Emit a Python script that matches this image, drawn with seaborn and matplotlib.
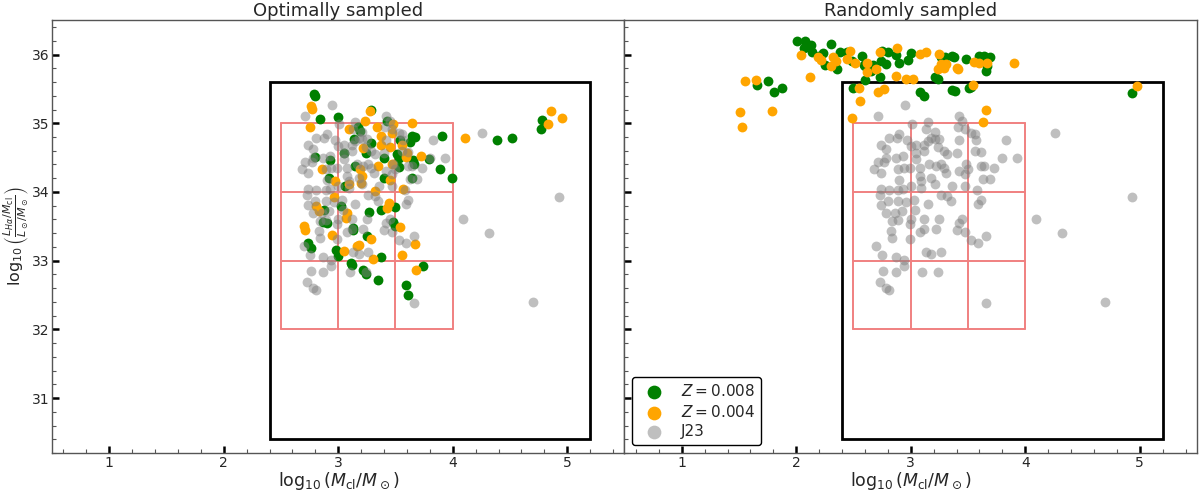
import numpy as np
import pandas as pd
import matplotlib
matplotlib.use("Agg")
import matplotlib.pyplot as plt
import seaborn as sns
from matplotlib.patches import Rectangle
from matplotlib.ticker import MultipleLocator

# =========================================
#  Data
# =========================================

# J23 clusters (same in both panels)
j23_x = [2.95, 2.71, 3.42, 3.45, 3.01, 3.15, 3.41, 3.47, 3.13, 3.21, 3.53, 3.56, 2.90, 2.88,
         2.81, 2.97, 3.18, 3.15, 3.21, 3.25, 3.42, 3.57, 3.83, 2.74, 3.05, 3.00, 3.12, 3.12,
         3.24, 3.29, 3.40, 2.78, 2.78, 2.87, 2.93, 3.05, 3.05, 3.32, 3.56, 3.61, 3.80, 3.93,
         2.71, 2.77, 2.68, 2.74, 2.89, 2.94, 2.99, 3.08, 3.16, 3.22, 3.26, 3.29, 3.31, 3.42,
         3.48, 3.50, 3.47, 3.61, 3.64, 3.73, 2.90, 3.08, 3.18, 3.09, 3.21, 3.00, 3.09, 3.63,
         3.69, 3.36, 3.47, 2.74, 2.81, 2.89, 2.93, 2.73, 2.80, 2.89, 2.96, 3.03, 3.26, 3.32,
         3.35, 3.15, 3.58, 3.61, 3.59, 2.74, 2.78, 2.86, 2.92, 3.04, 2.84, 2.89, 3.00, 3.12,
         3.25, 3.42, 3.45, 2.99, 2.83, 2.84, 3.08, 3.12, 3.22, 3.40, 3.47, 3.53, 3.59, 3.66,
         2.99, 2.70, 2.75, 2.87, 2.94, 2.94, 3.13, 3.18, 3.26, 2.76, 2.87, 3.10, 3.24, 2.73,
         2.78, 2.81, 3.66, 4.09, 4.26, 4.32, 4.70, 4.93]
j23_y = [35.27, 35.10, 35.10, 35.03, 34.99, 35.02, 34.94, 34.91, 34.91, 34.87, 34.86, 34.84,
         34.85, 34.78, 34.79, 34.76, 34.79, 34.74, 34.77, 34.77, 34.76, 34.75, 34.76, 34.69,
         34.69, 34.67, 34.69, 34.60, 34.65, 34.60, 34.57, 34.62, 34.50, 34.50, 34.52, 34.48,
         34.57, 34.55, 34.60, 34.58, 34.50, 34.50, 34.43, 34.43, 34.33, 34.28, 34.33, 34.35,
         34.35, 34.35, 34.40, 34.38, 34.40, 34.35, 34.28, 34.31, 34.40, 34.33, 34.26, 34.38,
         34.38, 34.35, 34.17, 34.23, 34.21, 34.16, 34.11, 34.09, 34.06, 34.19, 34.19, 34.09,
         34.09, 34.05, 34.03, 34.03, 34.04, 33.95, 33.87, 33.87, 33.85, 33.89, 33.95, 33.94,
         33.87, 33.82, 34.03, 33.89, 33.82, 33.81, 33.70, 33.70, 33.72, 33.74, 33.58, 33.59,
         33.60, 33.60, 33.60, 33.55, 33.60, 33.53, 33.43, 33.33, 33.42, 33.46, 33.46, 33.45,
         33.42, 33.30, 33.26, 33.36, 33.31, 33.21, 33.08, 33.05, 33.01, 32.92, 33.12, 33.10,
         33.12, 32.85, 32.83, 32.83, 32.83, 32.69, 32.61, 32.57, 32.38, 33.60, 34.86, 33.40,
         32.40, 33.93]

# Optimally sampled, Z = 0.008
opt_z008_x = [2.79, 2.80, 2.84, 3.00, 3.29, 3.43, 3.17, 3.19, 3.14, 3.29, 3.67, 3.64, 3.63,
              3.91, 3.54, 2.80, 2.93, 3.05, 3.24, 3.40, 3.51, 3.53, 3.65, 3.66, 3.79, 3.53,
              3.15, 3.89, 3.99, 3.64, 3.40, 2.92, 3.06, 3.02, 2.88, 3.27, 3.37, 3.50, 3.48,
              3.50, 2.87, 2.90, 3.13, 3.13, 3.25, 2.74, 2.76, 2.98, 3.00, 3.37, 3.11, 3.12,
              3.22, 3.24, 3.35, 3.59, 3.61, 3.74, 4.39, 4.52, 4.78, 4.77]
opt_z008_y = [35.42, 35.40, 35.06, 35.09, 35.20, 35.04, 34.95, 34.89, 34.77, 34.72, 34.80,
              34.82, 34.73, 34.82, 34.75, 34.51, 34.47, 34.57, 34.56, 34.50, 34.55, 34.50,
              34.47, 34.41, 34.48, 34.36, 34.38, 34.34, 34.21, 34.21, 34.21, 34.21, 34.09,
              33.79, 33.74, 33.71, 33.74, 33.78, 33.57, 33.51, 33.57, 33.55, 33.48, 33.44,
              33.36, 33.26, 33.19, 33.15, 33.07, 33.06, 32.97, 32.94, 32.87, 32.80, 32.72,
              32.64, 32.50, 32.92, 34.75, 34.78, 35.05, 34.92]

# Optimally sampled, Z = 0.004
opt_z004_x = [2.76, 2.77, 3.28, 3.23, 3.48, 3.64, 2.75, 3.09, 3.34, 3.37, 3.47, 3.56, 3.37,
              3.45, 3.22, 3.60, 3.59, 3.72, 2.86, 3.19, 3.35, 3.47, 3.21, 3.20, 2.97, 3.45,
              3.57, 3.09, 3.32, 2.96, 2.81, 2.83, 3.08, 3.07, 3.44, 3.43, 3.54, 2.70, 2.71,
              2.95, 3.29, 3.18, 3.16, 3.05, 3.67, 3.56, 3.30, 3.68, 4.11, 4.86, 4.95, 4.83]
opt_z004_y = [35.25, 35.21, 35.18, 35.03, 34.99, 35.01, 34.94, 34.91, 34.94, 34.82, 34.86,
              34.69, 34.68, 34.66, 34.64, 34.57, 34.51, 34.53, 34.34, 34.34, 34.38, 34.41,
              34.23, 34.13, 34.16, 34.17, 34.05, 34.11, 34.01, 33.93, 33.79, 33.72, 33.69,
              33.62, 33.84, 33.77, 33.49, 33.50, 33.45, 33.37, 33.32, 33.23, 33.21, 33.14,
              33.24, 33.09, 33.02, 32.86, 34.79, 35.18, 35.07, 34.99]

# Randomly sampled, Z = 0.008
rnd_z008_x = [1.66, 1.75, 1.81, 1.88, 2.01, 2.08, 2.13, 2.07, 2.14, 2.30, 2.20, 2.23, 2.25,
              2.36, 2.38, 2.44, 2.49, 2.57, 2.50, 2.60, 2.60, 2.75, 2.80, 2.87, 2.74, 2.78,
              2.90, 3.00, 2.98, 2.67, 2.65, 2.73, 2.59, 3.08, 3.12, 3.21, 3.24, 3.26, 3.30,
              3.36, 3.38, 3.36, 3.39, 3.48, 3.51, 3.53, 3.60, 3.64, 3.69, 3.67, 3.66, 4.93]
rnd_z008_y = [35.56, 35.61, 35.45, 35.52, 36.19, 36.20, 36.14, 36.10, 36.04, 36.15, 35.98,
              36.02, 35.85, 35.79, 36.04, 36.04, 35.91, 35.98, 35.51, 35.84, 35.63, 36.05,
              36.03, 36.00, 35.91, 35.86, 35.87, 36.02, 35.92, 35.85, 35.76, 35.67, 35.85,
              35.45, 35.40, 35.67, 35.64, 35.96, 35.96, 35.98, 35.96, 35.48, 35.47, 35.94,
              35.51, 35.53, 35.98, 35.98, 35.97, 35.83, 35.76, 35.44]

# Randomly sampled, Z = 0.004
rnd_z004_x = [1.55, 1.65, 1.51, 1.53, 1.79, 2.12, 2.04, 2.56, 2.49, 2.32, 2.35, 2.47, 2.30,
              2.51, 2.19, 2.22, 2.44, 2.55, 2.62, 2.62, 2.70, 2.71, 2.77, 2.73, 2.88, 2.87,
              2.96, 3.02, 3.08, 3.13, 3.25, 3.26, 3.24, 3.29, 3.31, 3.40, 3.41, 3.55, 3.60,
              3.67, 3.54, 3.66, 3.63, 3.90, 4.98]
rnd_z004_y = [35.62, 35.63, 35.16, 34.94, 35.18, 35.67, 36.00, 35.32, 35.07, 35.96, 35.91,
              36.05, 35.84, 35.88, 35.96, 35.92, 35.93, 35.52, 35.88, 35.74, 35.79, 35.46,
              35.50, 36.04, 36.09, 35.69, 35.64, 35.64, 36.01, 36.03, 36.01, 35.86, 35.79,
              35.81, 35.86, 35.80, 35.79, 35.89, 35.88, 35.88, 35.55, 35.19, 35.02, 35.88,
              35.54]

titles = ["Optimally sampled", "Randomly sampled"]
labels = [r"$Z = 0.008$", r"$Z = 0.004$", "J23"]

# selection box and sub-grid
box_x = (2.4, 5.2)
box_y = (30.4, 35.6)
grid_x = [2.5, 3.0, 3.5, 4.0]
grid_y = [32, 33, 34, 35]

# =========================================
#  Plot
# =========================================
sns.set_style("white")
plt.rcParams["font.family"] = ["DejaVu Sans"]
plt.rcParams["mathtext.fontset"] = "dejavusans"

fig, axes = plt.subplots(1, 2, figsize=(12, 4.92), dpi=100, sharey=True)
fig.subplots_adjust(left=0.0433, right=0.9975, bottom=0.079, top=0.959, wspace=0)

panels = [
    (opt_z008_x, opt_z008_y, opt_z004_x, opt_z004_y),
    (rnd_z008_x, rnd_z008_y, rnd_z004_x, rnd_z004_y),
]

for ax, title, (gx, gy, ox, oy) in zip(axes, titles, panels):
    # box + grid
    ax.add_patch(Rectangle((box_x[0], box_y[0]), box_x[1] - box_x[0], box_y[1] - box_y[0],
                           fill=False, edgecolor="black", lw=2, zorder=1))
    for xv in grid_x:
        ax.plot([xv, xv], [grid_y[0], grid_y[-1]], color="lightcoral", lw=1.4, zorder=1)
    for yv in grid_y:
        ax.plot([grid_x[0], grid_x[-1]], [yv, yv], color="lightcoral", lw=1.4, zorder=1)

    sns.scatterplot(x=gx, y=gy, color="green", s=50, linewidth=0, ax=ax, label=labels[0], zorder=3)
    sns.scatterplot(x=ox, y=oy, color="orange", s=50, linewidth=0, ax=ax, label=labels[1], zorder=3)
    sns.scatterplot(x=j23_x, y=j23_y, color="gray", alpha=0.5, s=50, linewidth=0, ax=ax,
                    label=labels[2], zorder=3)

    ax.set_title(title, fontsize=13, pad=3)
    ax.set_xlabel(r"$\log_{10}(M_{\rm cl}/M_\odot)$", fontsize=12.5, labelpad=0)
    ax.set_xlim(0.5, 5.5)
    ax.set_ylim(30.2, 36.5)
    ax.xaxis.set_major_locator(MultipleLocator(1))
    ax.xaxis.set_minor_locator(MultipleLocator(0.2))
    ax.yaxis.set_major_locator(MultipleLocator(1))
    ax.yaxis.set_minor_locator(MultipleLocator(0.2))
    ax.tick_params(which="major", direction="in", length=5, width=1.8, color="black",
                   labelsize=10, pad=2, left=True, bottom=True)
    ax.tick_params(which="minor", direction="in", length=3, width=0.8, color="#555555",
                   left=True, bottom=True)
    for sp in ax.spines.values():
        sp.set_color("#555555")
        sp.set_linewidth(1.0)

# y label placed as figure text so it stays inside the canvas
fig.text(0.001, 0.52, r"$\log_{10}\left(\frac{L_{H\alpha}/M_{\rm cl}}{L_\odot/M_\odot}\right)$",
         rotation=90, ha="left", va="center", fontsize=11.5)
axes[0].get_legend().remove()
axes[1].tick_params(labelleft=False)

leg = axes[1].legend(loc="lower left", fontsize=11, markerscale=1.4, frameon=True,
                     edgecolor="black", framealpha=1, borderaxespad=0.5, handletextpad=0.8,
                     labelspacing=0.3)
leg.get_frame().set_linewidth(1.0)

plt.savefig("out.png", dpi=100)
